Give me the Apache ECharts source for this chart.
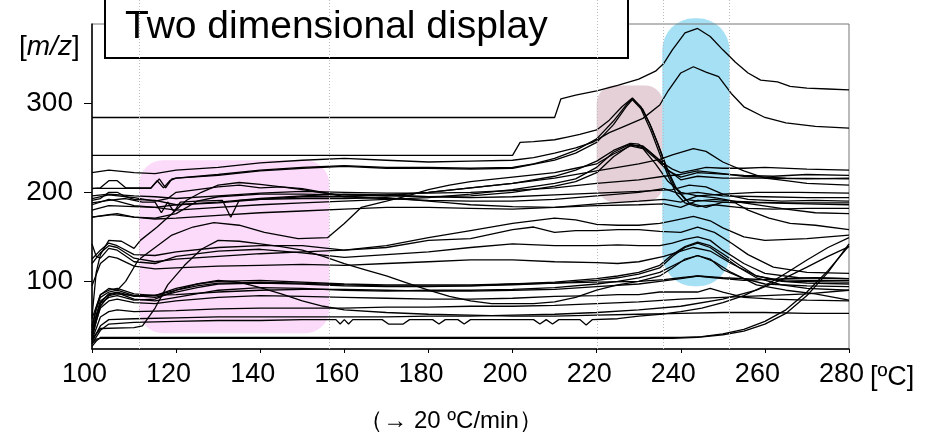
<!DOCTYPE html>
<html><head><meta charset="utf-8">
<script src="https://cdn.jsdelivr.net/npm/echarts@6/dist/echarts.min.js"></script>
<style>html,body{margin:0;padding:0;background:#fff}#c{width:928px;height:442px}</style>
</head><body><div id="c"></div>
<script>
// ---- tick labels ----
const yTicks = [100, 200, 300];
const xTicks = [100, 120, 140, 160, 180, 200, 220, 240, 260, 280];

// ---- series (temperature ºC, m/z) ----
const s01 = [[100,284],[210,284],[211.5,305],[215,309],[220,314],[225,320],[230,327],[234,336],[236,345],[238,360],[241,379],[244,384],[247,375],[250,360],[253,346],[256,334],[259,326],[263,324],[266,319],[270,317],[275,316],[280,315]];
const s02 = [[100,241.5],[200,241.5],[201.8,256],[205,257],[210,259],[213,262],[216,265],[220,270],[223,281],[226,296],[228.5,306],[231,293],[233,273],[235,249],[237,224],[239,204],[241,192],[244,190],[248,192],[252,190],[258,189],[265,188],[272,188],[280,188]];
const s03 = [[100,222],[104,225],[110,222],[115,221],[120,225],[130,228],[140,233],[150,236],[160,238],[170,236],[180,234],[190,235],[200,236],[205,239],[210,244],[215,250],[219,256],[223,267],[226,273],[231,283],[235,298],[237,314],[240,334],[243,341],[246,335],[249,330],[252,311],[255,296],[260,284],[265,278],[272,274],[280,272]];
const s04 = [[100,204.5],[114,204.5],[115.5,213],[117,205],[118.5,213],[120,216],[130,220],[140,225],[150,228],[160,230],[170,228],[180,228],[190,227],[200,228],[205,232],[210,238],[215,247],[220,260],[224,280],[227,298],[228.5,305],[230.5,296],[232.5,278],[234.5,255],[236.5,228],[238.5,206],[240.5,196],[242,188],[246,183],[250,189],[253,188],[256,180],[261,171],[266,165],[272,163],[280,158]];
const s05 = [[100,204],[102,205],[104,213],[106,213],[108,205],[114,205],[116,215],[117.5,205],[119,215],[120,216],[130,219],[140,224],[150,227],[160,229],[170,227],[180,227],[190,226],[200,227],[210,236],[215,244],[220,256],[224,276],[227,296],[228.5,304],[230.5,294],[233,268],[235,243],[237,218],[239,198],[241,188],[244,184],[248,186],[252,184],[256,182],[262,181],[270,182],[280,182]];
const s06 = [[100,191],[102,193],[104,200],[106,200],[108,195],[110,192],[115,191],[120,186],[130,188],[140,192],[150,195],[160,195],[170,197],[180,200],[190,205],[200,210],[210,218],[215,225],[220,235],[224,247],[228,255],[230,254],[232,248],[234,240],[236,232],[238,226],[240,222],[243,225],[246,228],[250,227],[255,227],[260,228],[270,226],[280,225]];
const s07 = [[100,186],[104,192],[106,190],[110,185],[115,183],[120,180],[130,183],[140,186],[150,188],[160,190],[170,192],[180,194],[190,198],[200,203],[210,210],[215,215],[220,228],[224,245],[228,254],[231,250],[234,238],[237,224],[240,217],[244,222],[248,221],[255,219],[262,218],[270,220],[280,219]];
const s08 = [[100,172],[104,175],[106,176],[110,172],[115,171],[120,176],[125,190],[130,195],[140,198],[150,198],[160,197],[170,196],[180,195],[190,196],[200,200],[210,207],[215,212],[220,222],[224,240],[228,253],[231,252],[234,240],[237,225],[240,214],[244,218],[250,216],[260,216],[270,215],[280,216]];
const s09 = [[100,193],[104,197],[110,194],[115,190],[118,193],[120,200],[125,203],[130,206],[135,208],[140,205],[145,206],[150,203],[155,199],[160,197],[170,196],[180,200],[190,205],[200,210],[210,216],[220,224],[225,228],[230,232],[235,237],[238,242],[243,249],[246,246],[250,234],[255,224],[260,216],[265,213],[270,210],[280,208]];
const s10 = [[100,60],[101,110],[102,130],[104,146],[107,145],[110,137],[111.5,146],[115.5,161],[119,176],[122.5,191],[126,200],[130,208],[135,211],[140,209],[145,206],[150,204],[155,200],[160,195],[170,193],[180,191],[190,190],[200,190],[210,192],[220,196],[230,200],[236,204],[240,198],[244,200],[250,196],[260,195],[270,194],[280,194]];
const s11 = [[100,188],[104,191],[108,193],[112,189],[115,189],[116.5,177],[118,189],[119.5,178],[121,189],[125,190],[131,191],[133,172],[135,191],[140,192],[150,193],[160,193],[170,194],[180,190],[185,188],[190,186],[200,184],[210,183],[220,185],[230,186],[236,187],[240,183],[244,191],[250,189],[260,188],[270,187],[280,186]];
const s12 = [[100,172],[105,175],[110,172],[115,170],[120,171],[130,174],[140,177],[150,179],[160,181],[170,183],[180,183],[190,182],[200,181],[210,183],[220,187],[230,190],[236,192],[240,189],[244,196],[248,194],[255,188],[265,181],[272,177],[280,176]];
const s13 = [[100,180],[104,185],[110,184],[115,183],[120,186],[130,189],[140,193],[150,196],[160,198],[170,197],[180,195],[190,194],[200,195],[210,197],[220,199],[230,201],[238,203],[242,208],[246,206],[250,198],[256,192],[264,190],[272,191],[280,190]];
const s14 = [[100,58],[102,85],[104,92],[106,90],[108,100],[111,124],[115,138],[119,152],[124,161],[129,166],[135,163],[141,155],[149,148],[156,149],[160,165],[164,183],[170,190],[175,196],[180,203],[185,208],[190,212],[200,217],[210,222],[215,227],[220,232],[224,243],[228,252],[231,249],[234,232],[237,212],[240,200],[244,196],[250,198],[258,200],[268,200],[280,199]];
const s15 = [[100,35],[102,47],[110,48],[112,50],[115,70],[118,96],[122,118],[126,136],[130,146],[135,145],[140,142],[145,139],[150,135],[155,128],[160,120],[165,113],[170,106],[175,98],[180,90],[185,83],[190,78],[195,75],[205,75],[210,77],[215,82],[220,90],[225,96],[230,100],[235,106],[238,115],[241,125],[244,129],[247,125],[250,113],[255,103],[260,97],[270,95],[280,94]];
const s16 = [[100,120],[102,132],[104,140],[106,138],[110,126],[115,122],[120,125],[130,128],[140,131],[150,133],[160,135],[170,140],[180,149],[190,157],[200,165],[210,171],[215,169],[220,164],[225,163],[230,163],[235,165],[238,168],[243,173],[247,168],[250,160],[255,150],[260,146],[270,148],[280,152]];
const s17 = [[100,125],[102,135],[104,143],[106,140],[110,130],[115,129],[120,133],[130,138],[140,140],[150,140],[160,135],[170,138],[180,146],[190,148],[200,158],[205,161],[210,155],[215,157],[220,157],[225,158],[230,158],[235,156],[240,155],[244,161],[248,155],[252,143],[256,130],[262,116],[270,110],[280,109]];
const s18 = [[100,142],[101,128],[102,126],[104,137],[106,135],[110,122],[115,120],[120,128],[130,134],[140,136],[150,132],[160,127],[170,130],[180,133],[190,138],[200,142],[210,140],[220,140],[225,141],[230,140],[235,140],[238,143],[241,147],[244,150],[247,146],[250,135],[255,120],[260,109],[268,104],[280,103]];
const s19 = [[100,95],[102,120],[104,128],[106,126],[110,117],[115,114],[120,115],[130,117],[140,118],[150,119],[160,118],[170,120],[180,122],[190,124],[200,124],[210,122],[220,121],[225,120],[230,122],[236,128],[240,134],[243,138],[247,134],[252,120],[258,106],[265,100],[280,99]];
const s20 = [[100,50],[101,70],[102,85],[104,90],[106,92],[110,86],[115,84],[120,90],[125,95],[130,98],[140,99],[150,98],[160,96],[170,95],[180,95],[190,95],[200,96],[210,98],[220,101],[225,104],[230,108],[235,115],[238,128],[241,138],[244,143],[247,138],[250,128],[254,115],[258,104],[264,96],[270,92],[280,90]];
const s21 = [[100,48],[101,68],[102,82],[104,88],[106,90],[110,84],[115,82],[120,88],[125,93],[130,97],[140,98],[150,97],[160,95],[170,94],[180,94],[190,95],[200,97],[210,99],[220,103],[225,106],[230,110],[235,118],[238,130],[241,139],[244,144],[247,140],[250,131],[254,118],[258,106],[264,100],[270,98],[280,97]];
const s22 = [[100,40],[101,62],[102,78],[104,85],[106,87],[110,80],[115,78],[120,82],[130,90],[140,93],[150,92],[160,90],[170,89],[180,90],[190,90],[200,91],[210,93],[220,97],[225,100],[230,104],[235,110],[240,122],[244,129],[248,122],[252,110],[258,96],[265,90],[272,86],[280,79]];
const s23 = [[100,35],[101,55],[102,70],[104,78],[106,80],[110,76],[115,75],[120,78],[130,82],[140,84],[150,83],[160,82],[170,81],[180,80],[190,80],[200,81],[210,83],[220,84],[225,85],[230,85],[235,88],[240,88],[244,88],[247,92],[250,88],[255,82],[262,80],[270,79],[280,78]];
const s24 = [[100,42],[101,60],[102,75],[104,82],[106,84],[110,79],[115,80],[120,90],[125,97],[130,101],[135,99],[140,93],[145,86],[150,78],[155,72],[160,68],[170,65],[180,63],[190,62],[200,61],[210,61],[220,62],[230,63],[240,64],[250,65],[260,65],[270,64],[280,64]];
const s25 = [[100,38],[102,72],[104,84],[106,86],[110,84],[120,85],[130,88],[140,90],[150,91],[160,91],[170,90],[180,89],[190,89],[200,90],[210,91],[220,94],[230,97],[235,100],[240,103],[244,106],[248,104],[255,101],[265,103],[272,104],[280,103]];
const s26 = [[100,34],[102,60],[104,66],[106,68],[110,66],[120,67],[130,69],[140,70],[150,70],[160,70],[170,71],[180,71],[190,72],[200,72],[210,73],[220,75],[230,77],[240,80],[250,82],[260,84],[270,86],[280,90]];
const s27 = [[100,30],[102,45],[104,52],[110,54],[120,55],[130,56],[140,56],[150,57],[158,57],[159,52],[160,57],[161,52],[162,57],[169,57],[170.5,52],[174,52],[175.5,57],[181,57],[182.5,52],[184,57],[187,57],[188.5,52],[190,57],[205,57],[206.5,52],[208,57],[209.5,52],[211,57],[216,57],[217.5,51],[219,57],[225,58],[230,61],[235,63],[240,66],[245,70],[250,76],[255,84],[260,95],[265,109],[270,124],[275,138],[280,149]];
const s28 = [[100,32],[102,50],[104,57],[110,58],[120,59],[130,60],[140,60],[150,60],[160,60],[170,60],[180,61],[190,61],[200,62],[210,63],[220,65],[230,68],[240,72],[250,80],[258,90],[264,102],[270,116],[275,128],[280,139]];
const s29 = [[100,27],[101,33],[102,37],[240,37],[245,38],[250,41],[255,46],[260,55],[265,68],[270,88],[275,112],[280,140]];
const s30 = [[100,30],[101,35],[102,36],[238,36],[244,37],[250,40],[255,44],[260,52],[265,64],[270,84],[275,110],[280,142]];
const s31 = [[100,45],[102,76],[104,86],[106,88],[110,83],[115,84],[120,92],[125,97],[130,100],[140,101],[150,99],[160,97],[170,96],[180,96],[190,96],[200,97],[210,98],[220,99],[230,100],[236,102],[240,104],[244,106],[250,104],[260,102],[270,101],[280,101]];
const s32 = [[100,196],[104,198],[110,196],[115,195],[120,193],[130,196],[140,199],[150,201],[160,200],[170,199],[180,199],[190,200],[200,202],[210,205],[220,210],[225,212],[230,214],[236,218],[240,220],[244,224],[248,222],[255,218],[265,216],[280,215]];

const allSeries = [s01,s02,s03,s04,s05,s06,s07,s08,s09,s10,s11,s12,s13,s14,s15,s16,s17,s18,s19,s20,s21,s22,s23,s24,s25,s26,s27,s28,s29,s30,s31,s32];

// highlighted regions in data units [t0, t1, v0, v1]
const pinkZone = [111.2, 156.4, 41.6, 236];
const brownZone = [220, 235.8, 188.8, 320];
const blueZone = [235.6, 251.6, 94.4, 395.5];
const guideTemps = [111.2, 156.4, 220, 235.8, 251.5];

const FONT = '"Liberation Sans", Arial, sans-serif';
const chart = echarts.init(document.getElementById('c'), null, {renderer: 'canvas'});

chart.setOption({
  animation: false,
  backgroundColor: '#fff',
  grid: {left: 92, right: 79, top: 24, bottom: 93, outerBoundsMode: 'none', containLabel: false,
    show: true, borderColor: '#777', borderWidth: 1, backgroundColor: 'transparent'},
  xAxis: {
    type: 'value', min: 100, max: 280, interval: 20,
    axisLine: {show: true, lineStyle: {color: '#000', width: 1.5}},
    axisTick: {show: true, length: 4, lineStyle: {color: '#000'}},
    axisLabel: {color: '#000', fontSize: 27, fontFamily: FONT, margin: 12,
      customValues: xTicks, formatter: v => v + '\u0020\u0020'},
    splitLine: {show: false},
    name: '[ºC]', nameLocation: 'end', nameGap: 21, nameMoveOverlap: false,
    nameTextStyle: {color: '#000', fontSize: 27, fontFamily: FONT, verticalAlign: 'top', align: 'left', padding: [15, 0, 0, 0]}
  },
  yAxis: {
    type: 'value', min: 24, max: 389,
    axisLine: {show: true, lineStyle: {color: '#000', width: 1.5}},
    axisTick: {show: true, length: 8, customValues: yTicks, lineStyle: {color: '#000'}},
    axisLabel: {color: '#000', fontSize: 28, fontFamily: FONT, margin: 19, customValues: yTicks},
    splitLine: {show: false}
  },
  series: allSeries.map(d => ({
    type: 'line', data: d, showSymbol: false, silent: true, z: 5,
    lineStyle: {color: '#000', width: 1.3}
  }))
});

function zoneRect(z, color, r) {
  const p0 = chart.convertToPixel({gridIndex: 0}, [z[0], z[3]]);
  const p1 = chart.convertToPixel({gridIndex: 0}, [z[1], z[2]]);
  return {type: 'rect', z: -10, silent: true,
    shape: {x: p0[0], y: p0[1], width: p1[0] - p0[0], height: p1[1] - p0[1], r: r},
    style: {fill: color}};
}
const bottomY = chart.convertToPixel({gridIndex: 0}, [100, 24])[1];
const graphics = [
  zoneRect(pinkZone, '#FCDAF9', 24),
  zoneRect(brownZone, '#E4D0D6', 18),
  zoneRect(blueZone, '#A6E0F5', 32)
];
// title box
graphics.push({type: 'rect', z: 50, silent: true,
  shape: {x: 105, y: -6, width: 523, height: 64},
  style: {fill: '#fff', stroke: '#000', lineWidth: 2}});
graphics.push({type: 'text', z: 51, silent: true, x: 125, y: 27,
  style: {text: 'Two dimensional display', fontSize: 39, fontFamily: FONT, fill: '#000', textVerticalAlign: 'middle'}});
guideTemps.forEach(t => {
  const x = Math.round(chart.convertToPixel({gridIndex: 0}, [t, 100])[0]) + 0.5;
  graphics.push({type: 'line', z: 60, silent: true,
    shape: {x1: x, y1: 0, x2: x, y2: bottomY},
    style: {stroke: '#bbb', lineWidth: 1, lineDash: [1, 2]}});
});
// y axis unit label
graphics.push({type: 'text', z: 51, silent: true, x: 19, y: 47,
  style: {text: '[{i|m/z}]', fontSize: 28, fontFamily: FONT, fill: '#000', textVerticalAlign: 'middle',
    rich: {i: {fontStyle: 'italic', fontSize: 28, fontFamily: FONT, fill: '#000'}}}});
// bottom caption
graphics.push({type: 'text', z: 51, silent: true, x: 451, y: 421,
  style: {text: '（→ 20 ºC/min）', fontSize: 24, fontFamily: FONT, fill: '#000', textAlign: 'center', textVerticalAlign: 'middle'}});

chart.setOption({graphic: graphics});
</script>
</body></html>
